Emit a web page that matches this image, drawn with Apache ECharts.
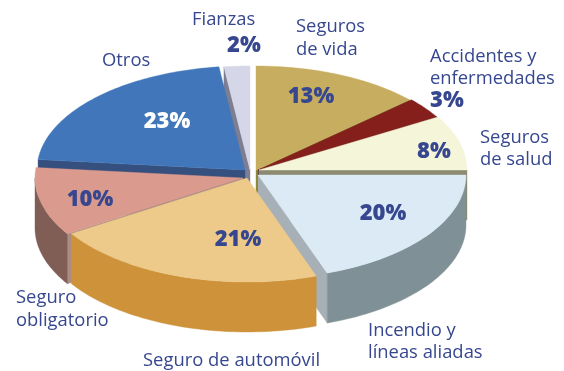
<!DOCTYPE html>
<html><head><meta charset="utf-8">
<style>html,body{margin:0;padding:0;background:#fff}#c{width:564px;height:371px}</style>
<script src="https://cdn.jsdelivr.net/npm/echarts@6/dist/echarts.min.js"></script>
</head><body><div id="c"></div>
<script>
// Slice order runs clockwise from 12 o'clock.
const categories = ["Seguros de vida","Accidentes y enfermedades","Seguros de salud","Incendio y líneas aliadas","Seguro de automóvil","Seguro obligatorio","Otros","Fianzas"];
// Percentages printed on the chart.
const printedPercent = [13,3,8,20,21,10,23,2];
// Slice sizes (the original art does not draw them exactly to the printed values).
const drawnShare = [13.2,3.3,8.5,19.6,21.4,10.6,21.4,2];

const topColors  = ["#c7ad5f","#851f1c","#f5f5da","#dceaf6","#edca89","#da9a8d","#4177ba","#d6d6e9"];
const outerWall  = ["#8f8a3a","#5c3a3f","#8d8a72","#7f9196","#cd923a","#805e56","#35507f","#7e7e92"];
const radialWall = ["#8f8a3a","#5c3a3f","#8d8a72","#a6b0b6","#b98a45","#a88d85","#35507f","#7e7e92"];
const apexX = [256,258,259,258,247,243,245,250];
const apexY = [170,170,170,175,178,178,170,170];
const paintOrder = [7,0,1,2,6,5,3,4];
const RX = 208, RY = 104, DEPTH = 50;

const startShare = []; let acc = 0;
drawnShare.forEach(v => { startShare.push(acc); acc += v; });
const total = acc;

function pt(i, deg, dy) {
  const r = deg * Math.PI / 180;
  return [apexX[i] + RX * Math.sin(r), apexY[i] - RY * Math.cos(r) + (dy || 0)];
}
function renderSlice(params, api) {
  const i = api.value(0);
  const a0 = startShare[i] / total * 360, a1 = (startShare[i] + drawnShare[i]) / total * 360;
  const children = [];
  const poly = (points, fill) => children.push({type:'polygon', shape:{points}, style:{fill, stroke:fill, lineWidth:0.4}});
  const radial = (deg, c) => poly([[apexX[i],apexY[i]], pt(i,deg), pt(i,deg,DEPTH), [apexX[i],apexY[i]+DEPTH]], c);
  if (a1 < 180) radial(a1, radialWall[i]);
  if (a0 > 180) radial(a0, radialWall[i]);
  const w0 = Math.max(a0, 90), w1 = Math.min(a1, 270);
  if (w1 > w0) {
    const up = [], down = [];
    for (let d = w0; d < w1; d += 1.5) { up.push(pt(i,d)); down.unshift(pt(i,d,DEPTH)); }
    up.push(pt(i,w1)); down.unshift(pt(i,w1,DEPTH));
    poly(up.concat(down), outerWall[i]);
  }
  const top = [[apexX[i],apexY[i]]];
  for (let d = a0; d < a1; d += 1) top.push(pt(i,d));
  top.push(pt(i,a1));
  poly(top, topColors[i]);
  return {type:'group', children};
}

const INK = "#36478f";
const NAME_FONT = "'Open Sans', Lato, sans-serif";
const PCT_FONT = "'Open Sans', 'DejaVu Sans', sans-serif";
const nameLabels = [
  ["Fianzas",192,20],["Seguros",296,27],["de vida",296,50],
  ["Accidentes y",430,57],["enfermedades",430,79],
  ["Seguros",480,138],["de salud",480,160],
  ["Incendio y",368,331],["líneas aliadas",368,353],
  ["Seguro de automóvil",143,361],
  ["Seguro",16,298],["obligatorio",16,321],["Otros",102,61]
];
const pctPos = [[311,97],[447,101],[434,152],[383,214],[238,240],[90,200],[167,122],[244,46]];

const graphic = [];
nameLabels.forEach(l => graphic.push({type:'text', x:l[1], y:l[2], z:10, silent:true,
  style:{text:l[0], fill:INK, font:"400 18.4px "+NAME_FONT, textAlign:'left', textVerticalAlign:'middle'}}));
printedPercent.forEach((v,i) => graphic.push({type:'text', x:pctPos[i][0], y:pctPos[i][1], z:10, silent:true,
  style:{text:v+"%", fill:i===6?"#ffffff":INK, font:"800 22px "+PCT_FONT, textAlign:'center', textVerticalAlign:'middle'}}));

const chart = echarts.init(document.getElementById('c'), null, {renderer:'canvas'});
chart.setOption({
  animation:false, backgroundColor:'#ffffff',
  graphic,
  series:[{type:'custom', coordinateSystem:'none', silent:true, renderItem:renderSlice,
    data: paintOrder.map(i => ({name:categories[i], value:[i, drawnShare[i]]}))}]
});
</script></body></html>
